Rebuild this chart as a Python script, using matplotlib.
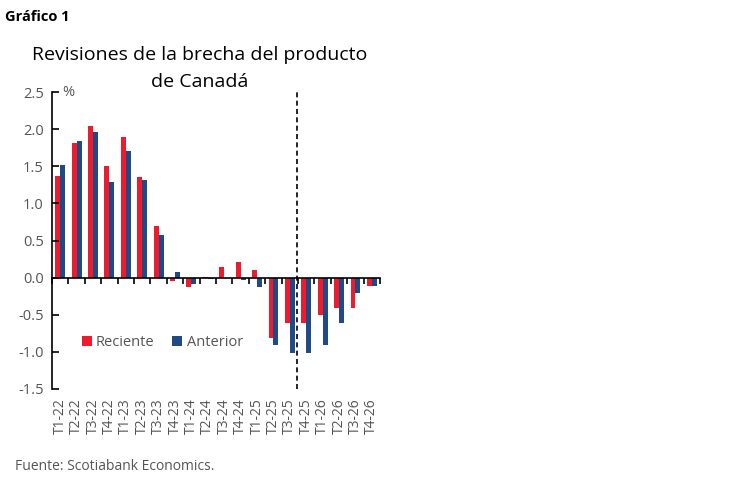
import matplotlib
matplotlib.use("Agg")
import numpy as np
import matplotlib.pyplot as plt
from matplotlib import rcParams

rcParams['font.family'] = ['Open Sans', 'DejaVu Sans']

# Data
quarters = ["T1-22", "T2-22", "T3-22", "T4-22", "T1-23", "T2-23", "T3-23", "T4-23",
            "T1-24", "T2-24", "T3-24", "T4-24", "T1-25", "T2-25", "T3-25", "T4-25",
            "T1-26", "T2-26", "T3-26", "T4-26"]
reciente = [1.37, 1.82, 2.04, 1.50, 1.89, 1.36, 0.69, -0.04,
            -0.13, 0.01, 0.14, 0.21, 0.10, -0.82, -0.61, -0.61,
            -0.51, -0.41, -0.41, -0.11]
anterior = [1.52, 1.84, 1.96, 1.29, 1.70, 1.31, 0.57, 0.08,
            -0.09, -0.02, -0.01, -0.03, -0.12, -0.91, -1.01, -1.01,
            -0.91, -0.61, -0.21, -0.11]

RED = "#EC1C2E"
BLUE = "#1F4A85"
GRAY = "#555555"

fig = plt.figure(figsize=(7.49, 4.82), dpi=100)
ax = fig.add_axes([0.0694, 0.193, 0.438, 0.616])

x = np.arange(len(quarters))
w = 0.3
ax.bar(x - w / 2, reciente, width=w, color=RED, label="Reciente")
ax.bar(x + w / 2, anterior, width=w, color=BLUE, label="Anterior")

ax.set_xlim(-0.5, len(quarters) - 0.5)
ax.set_ylim(-1.5, 2.5)
ax.set_yticks(np.arange(-1.5, 2.51, 0.5))
ax.set_yticklabels([f"{v:.1f}" for v in np.arange(-1.5, 2.51, 0.5)], fontsize=10.5, color=GRAY)

# x axis at zero, ticks between categories
ax.spines['bottom'].set_position(('data', 0))
ax.spines['top'].set_visible(False)
ax.spines['right'].set_visible(False)
ax.spines['left'].set_linewidth(1.2)
ax.spines['bottom'].set_linewidth(1.2)
ax.set_xticks(np.arange(-0.5, len(quarters) + 0.5, 1))
ax.set_xticklabels([])
ax.tick_params(axis='x', direction='out', length=4, width=1.2)
ax.tick_params(axis='y', direction='in', length=5, width=1.2, pad=6)

# category labels below the plot
for i, q in enumerate(quarters):
    ax.text(i, -1.62, q, rotation=90, ha='center', va='top', fontsize=10, color=GRAY)

# forecast separator
ax.axvline(14.45, color='black', linestyle=(0, (3, 2)), linewidth=1.2)

ax.text(0.12, 2.5, "%", fontsize=10.5, color=GRAY, va='center', ha='left')

leg = ax.legend(loc='center left', bbox_to_anchor=(0.05, 0.155), ncol=2, frameon=False,
                fontsize=10.5, handlelength=0.7, handleheight=0.7, handletextpad=0.3,
                columnspacing=1.2)
for t in leg.get_texts():
    t.set_color(GRAY)

# title on two separate lines
fig.text(0.267, 0.886, "Revisiones de la brecha del producto", ha='center',
         va='center', fontsize=14, color='black')
fig.text(0.267, 0.830, "de Canadá", ha='center', va='center', fontsize=14, color='black')
fig.text(0.007, 0.965, "Gráfico 1", fontsize=10.5, fontweight='bold', va='center', ha='left')
fig.text(0.02, 0.033, "Fuente: Scotiabank Economics.", fontsize=10, color=GRAY,
         va='center', ha='left')

fig.savefig("out.png", dpi=100)
